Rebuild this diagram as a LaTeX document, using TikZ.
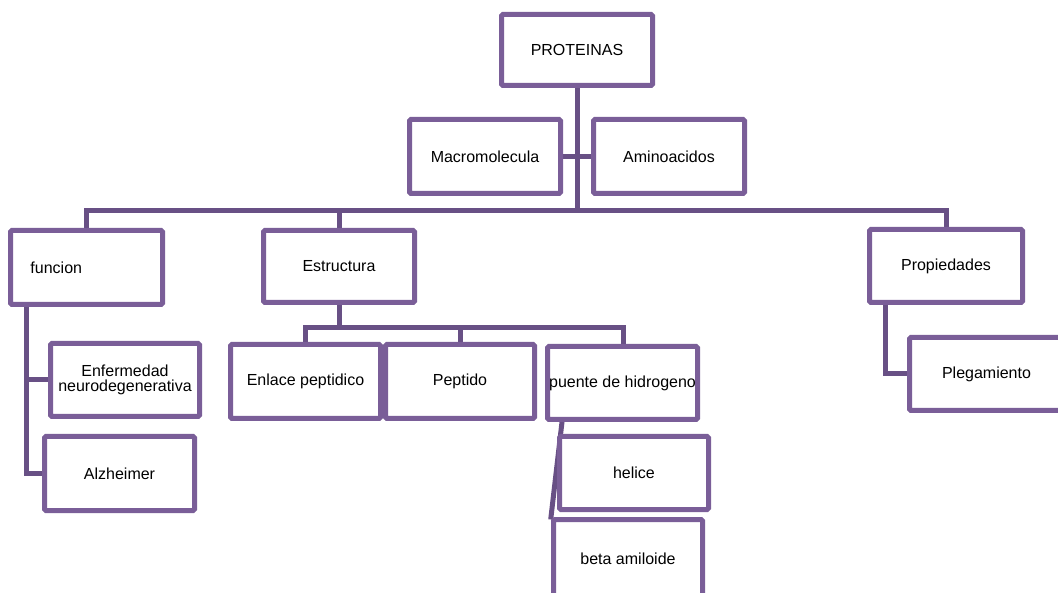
\documentclass[tikz,border=0pt]{standalone}
\usepackage{fontspec}
\setmainfont{Liberation Sans}
\begin{document}
\begin{tikzpicture}[x=1pt,y=-1pt,
  box/.style={draw=boxpurple, line width=5pt, fill=white, rounded corners=1.5pt,
    inner sep=0pt, align=center, font=\fontsize{16}{17.5}\selectfont},
  conn/.style={draw=linepurple, line width=5pt, line cap=rect}]
\definecolor{boxpurple}{RGB}{122,94,152}
\definecolor{linepurple}{RGB}{104,80,133}
\useasboundingbox (0,0) rectangle (1058,593);
% box from outer corners: [options]{name}{x1}{y1}{x2}{y2}{text}
\newcommand\pbox[7][]{%
  \pgfmathsetmacro\cx{(#3+#5)/2}\pgfmathsetmacro\cy{(#4+#6)/2}%
  \pgfmathsetmacro\ww{#5-#3-5}\pgfmathsetmacro\hh{#6-#4-5}%
  \node[box, minimum width=\ww pt, minimum height=\hh pt, #1] (#2) at (\cx,\cy) {#7};}

% bus coordinates
\coordinate (busL) at (86,211);
\coordinate (busR) at (946,211);
\coordinate (eL) at (305,328);
\coordinate (eR) at (623,328);
\coordinate (fT) at (26,307);
\coordinate (pX) at (885,305);
\coordinate (hT) at (562,422);

% boxes are placed first (invisible) so connectors can use their anchors
\begin{scope}[box/.append style={draw=none, fill=none, text opacity=0}]
\pbox{prot}{499}{12}{655}{88}{PROTEINAS}
\pbox{macro}{407}{117}{563}{196}{Macromolecula}
\pbox{amino}{591}{117}{747}{196}{Aminoacidos}
\pbox[text width=112pt, align=left, inner xsep=20pt]{func}{8}{228}{165}{307}{funcion}
\pbox{estr}{261}{228}{417}{305}{Estructura}
\pbox{prop}{867}{227}{1025}{305}{Propiedades}
\pbox{enf}{48}{341}{202}{419}{Enfermedad\\[-3pt]neurodegenerativa}
\pbox{alz}{42}{434}{197}{513}{Alzheimer}
\pbox{enl}{228}{342}{383}{421}{Enlace peptidico}
\pbox{pep}{383}{342}{537}{421}{Peptido}
\pbox{pue}{545}{344}{700}{422}{puente de hidrogeno}
\pbox{hel}{557}{434}{711}{512}{helice}
\pbox{beta}{551}{517}{705}{600}{beta amiloide}
\pbox{pleg}{907}{335}{1066}{413}{Plegamiento}
\end{scope}

% connectors
\draw[conn] (prot.south) -- (prot.south |- busL);
\draw[conn] (macro.east) -- (amino.west);
\draw[conn] (busL) -- (busR);
\draw[conn] (busL) -- (busL |- func.north);
\draw[conn] (estr.north) -- (estr.north |- busL);
\draw[conn] (busR) -- (busR |- prop.north);
\draw[conn] (fT |- func.south) -- (fT |- alz.west) -- (alz.west);
\draw[conn] (fT |- enf.west) -- (enf.west);
\draw[conn] (estr.south) -- (estr.south |- eL);
\draw[conn] (eL) -- (eR);
\draw[conn] (eL) -- (eL |- enl.north);
\draw[conn] (pep.north) -- (pep.north |- eL);
\draw[conn] (eR) -- (eR |- pue.north);
\draw[conn] (pX |- prop.south) -- (pX |- pleg.west) -- (pleg.west);
\draw[conn] (hT) -- (beta.north west);

% visible boxes
\pbox{prot}{499}{12}{655}{88}{PROTEINAS}
\pbox{macro}{407}{117}{563}{196}{Macromolecula}
\pbox{amino}{591}{117}{747}{196}{Aminoacidos}
\pbox[text width=112pt, align=left, inner xsep=20pt]{func}{8}{228}{165}{307}{funcion}
\pbox{estr}{261}{228}{417}{305}{Estructura}
\pbox{prop}{867}{227}{1025}{305}{Propiedades}
\pbox{enf}{48}{341}{202}{419}{Enfermedad\\[-3pt]neurodegenerativa}
\pbox{alz}{42}{434}{197}{513}{Alzheimer}
\pbox{enl}{228}{342}{383}{421}{Enlace peptidico}
\pbox{pep}{383}{342}{537}{421}{Peptido}
\pbox{pue}{545}{344}{700}{422}{puente de hidrogeno}
\pbox{hel}{557}{434}{711}{512}{helice}
\pbox{beta}{551}{517}{705}{600}{beta amiloide}
\pbox{pleg}{907}{335}{1066}{413}{Plegamiento}
\end{tikzpicture}
\end{document}
